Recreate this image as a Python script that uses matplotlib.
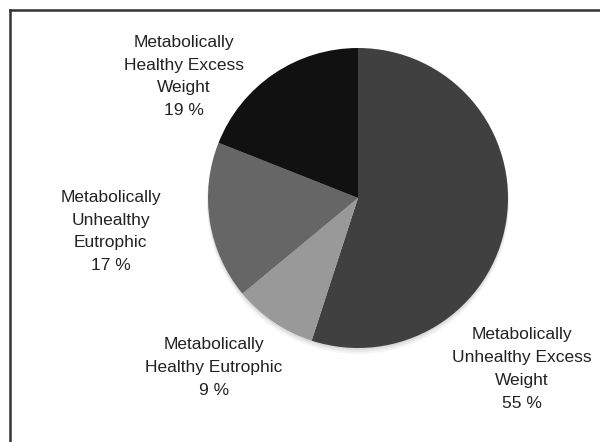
import matplotlib
matplotlib.use('Agg')
import matplotlib.pyplot as plt
from matplotlib.patches import Circle
from matplotlib.lines import Line2D

# datos del gráfico
categorias = ['Metabolically\nUnhealthy Excess\nWeight',
              'Metabolically\nHealthy Eutrophic',
              'Metabolically\nUnhealthy\nEutrophic',
              'Metabolically\nHealthy Excess\nWeight']
valores = [55, 9, 17, 19]
colores = ['#404040', '#999999', '#666666', '#111111']

# posiciones de las etiquetas (en unidades del radio)
pos_x = [1.093, -0.96, -1.65, -1.16]
pos_y = [-1.14, -1.13, -0.223, 0.81]

fig = plt.figure(figsize=(6, 4.42), dpi=100)
ax = fig.add_axes([0, 0, 1, 1])

# sombra suave debajo del pastel
for i, a in enumerate([0.06, 0.05, 0.04]):
    ax.add_patch(Circle((0, -0.012 - 0.01 * i), 1.0 + 0.004 * i,
                        color='black', alpha=a, lw=0, zorder=0))

ax.pie(valores, colors=colores, startangle=90, counterclock=False,
       wedgeprops={'linewidth': 0}, radius=1.0)

for lab, v, x, y in zip(categorias, valores, pos_x, pos_y):
    ax.text(x, y, f'{lab}\n{v} %', ha='center', va='center',
            fontsize=12.5, linespacing=1.64, color='#222222',
            family=['Liberation Sans', 'DejaVu Sans'])

ax.set_aspect('equal')
ax.set_xlim(-358 / 150, (600 - 358) / 150)
ax.set_ylim(-(442 - 198) / 150, 198 / 150)
ax.axis('off')

# borde superior e izquierdo
fig.add_artist(Line2D([10 / 600, 1], [1 - 10 / 442, 1 - 10 / 442],
                      transform=fig.transFigure, color='#333333', lw=1.8))
fig.add_artist(Line2D([10 / 600, 10 / 600], [0, 1 - 10 / 442],
                      transform=fig.transFigure, color='#333333', lw=1.8))

fig.savefig('out.png', dpi=100, facecolor='white')
